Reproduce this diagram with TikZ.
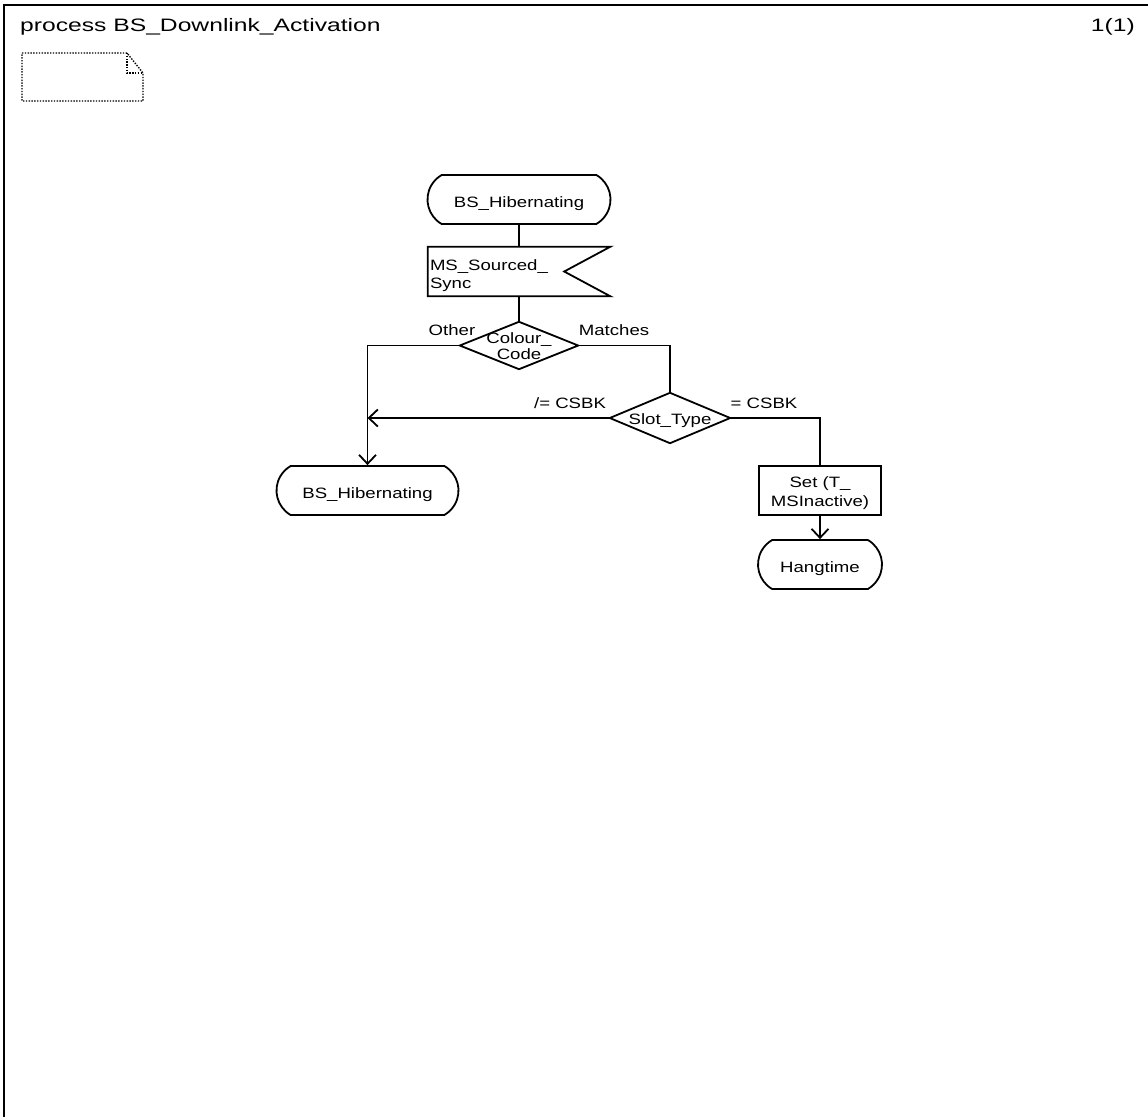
\documentclass[tikz,border=0pt]{standalone}
\usepackage{fontspec}
\setmainfont{Liberation Sans}[FakeStretch=1.24]
\newfontfamily\titlefont{Liberation Sans}[FakeStretch=1.37]
\usetikzlibrary{arrows.meta,shapes.misc}
\begin{document}
\begin{tikzpicture}[x=1pt,y=-1pt,
  every node/.style={font=\fontsize{15}{18}\selectfont, inner sep=0pt},
  ln/.style={line width=1.8pt},
  frame/.style={line width=1.5pt},
  arr/.style={ln,-{Straight Barb[length=9pt,width=17pt,line width=1.8pt]}},
  stbox/.style={rounded rectangle, rounded rectangle arc length=120, draw, ln, minimum height=49pt, align=center, text height=15pt, text depth=0pt},
  taskbox/.style={rectangle, draw, ln, minimum height=49pt, align=center, font=\fontsize{15}{19}\selectfont, text height=31pt, text depth=0pt},
  diabox/.style={rectangle, align=center, font=\fontsize{15}{16}\selectfont},
  lbl/.style={font=\fontsize{15}{18}\selectfont},
  note/.style={line width=1.4pt, dash pattern=on 1.4pt off 1.4pt}
]
\useasboundingbox (0,0) rectangle (1148,1117);
% frame
\draw[frame] (4,1117) -- (4,5) -- (1148,5);
\node[anchor=west, font=\titlefont\fontsize{18}{22}\selectfont] (title) at (20,27) {process BS\_Downlink\_Activation};
\node[anchor=east, font=\titlefont\fontsize{18}{22}\selectfont] (page) at (1135,27) {1(1)};
% note symbol
\draw[note] (22,53) -- (127,53) -- (143,73) -- (143,101) -- (22,101) -- cycle;
\draw[note] (127,53) -- (127,73) -- (143,73);

% nodes
\node[stbox, minimum width=183pt] (s1) at (519,199.5) {BS\_Hibernating};
\node[rectangle, minimum width=182pt, minimum height=49pt, text width=178pt, inner xsep=2pt, align=left, font=\fontsize{15}{18.5}\selectfont, text height=0pt, text depth=2.3pt] (in1) at (519,271.5) {MS\_Sourced\_\\Sync};
\draw[ln] (in1.north west) -- (in1.north east) -- ([xshift=-46pt]in1.east) -- (in1.south east) -- (in1.south west) -- cycle;

\node[diabox, minimum width=118pt, minimum height=47pt, text height=27.7pt, text depth=0pt] (cc) at (519,345.5) {Colour\_\\Code};
\draw[ln] (cc.north) -- (cc.east) -- (cc.south) -- (cc.west) -- cycle;

\node[diabox, minimum width=120pt, minimum height=50pt, text height=13pt, text depth=0pt] (st) at (670,418) {Slot\_Type};
\draw[ln] (st.north) -- (st.east) -- (st.south) -- (st.west) -- cycle;

\node[stbox, minimum width=182pt] (s2) at (367.5,490.5) {BS\_Hibernating};
\node[taskbox, minimum width=122pt] (setb) at (820,490.5) {Set (T\_\\MSInactive)};
\node[stbox, minimum width=124pt] (hang) at (820,564.5) {Hangtime};

% labels
\node[lbl] (lother) at (452,330) {Other};
\node[lbl] (lmatch) at (614,330) {Matches};
\node[lbl] (lne) at (570,403) {/= CSBK};
\node[lbl] (leq) at (764,403) {= CSBK};

% connectors
\draw[ln] (s1.south) -- (in1.north);
\draw[ln] (in1.south) -- (cc.north);
\draw[arr] (cc.west) -| (s2.north);
\draw[ln] (cc.east) -| (st.north);
\draw[arr] (st.west) -- (st.west -| s2.north);
\draw[ln] (st.east) -| (setb.north);
\draw[arr] (setb.south) -- (hang.north);
\end{tikzpicture}
\end{document}
